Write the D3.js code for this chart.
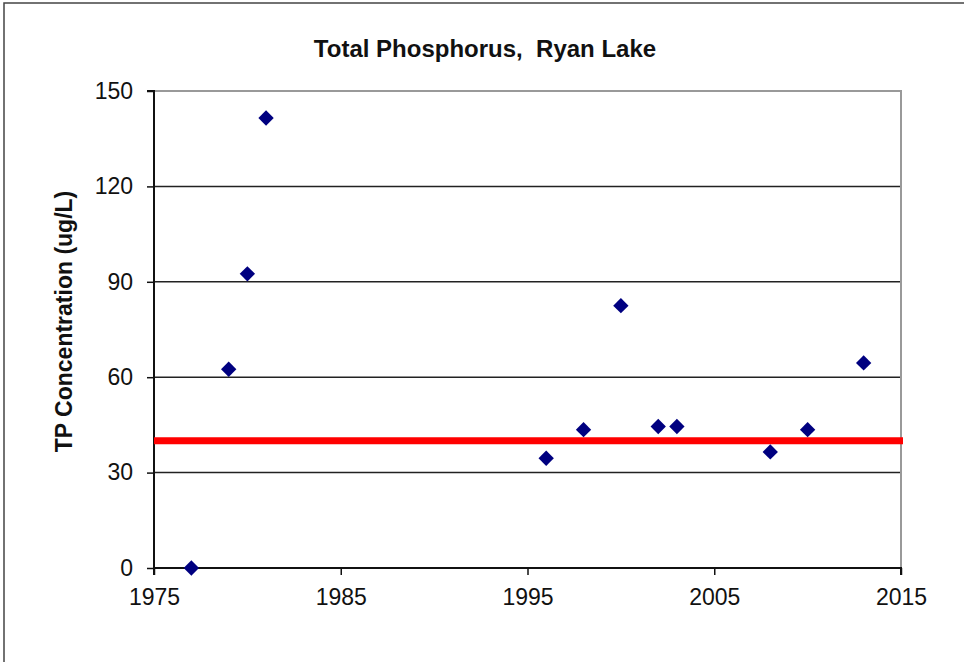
<!DOCTYPE html>
<html>
<head>
<meta charset="utf-8">
<script src="https://cdn.jsdelivr.net/npm/d3@7"></script>
<style>
  html, body { margin: 0; padding: 0; background: #fff; }
  svg { display: block; }
  text { font-family: "Liberation Sans", Arial, sans-serif; fill: #111; }
</style>
</head>
<body>
<svg id="chart" width="964" height="662"></svg>
<script>
// ---- data ----
const years  = [1977, 1979, 1980, 1981, 1996, 1998, 2000, 2002, 2003, 2008, 2010, 2013];
const tpValues = [0, 62.5, 92.5, 141.5, 34.5, 43.5, 82.5, 44.5, 44.5, 36.5, 43.5, 64.5];
const standardValue = 40;
const xTicks = [1975, 1985, 1995, 2005, 2015];
const yTicks = [0, 30, 60, 90, 120, 150];
const titleText = "Total Phosphorus,\u00A0 Ryan Lake";
const yTitleText = "TP Concentration (ug/L)";

const svg = d3.select("#chart");
const m = { left: 154, right: 901, top: 91, bottom: 568 };

const x = d3.scaleLinear().domain([1975, 2015]).range([m.left, m.right]);
const y = d3.scaleLinear().domain([0, 150]).range([m.bottom, m.top]);

// outer border (extends beyond right/bottom of the frame)
svg.append("rect")
  .attr("x", 4).attr("y", 3).attr("width", 1000).attr("height", 700)
  .attr("fill", "none").attr("stroke", "#444").attr("stroke-width", 1.5);

// gridlines
svg.append("g").selectAll("line")
  .data(yTicks.filter(d => d > 0 && d < 150))
  .join("line")
  .attr("x1", m.left).attr("x2", m.right)
  .attr("y1", d => y(d)).attr("y2", d => y(d))
  .attr("stroke", "#222").attr("stroke-width", 1.5);

// plot border top & right (gray)
svg.append("path")
  .attr("d", `M${m.left},${y(150)}H${m.right}V${m.bottom}`)
  .attr("fill", "none").attr("stroke", "#999").attr("stroke-width", 2);

// axes
const yAxis = d3.axisLeft(y).tickValues(yTicks).tickSize(7).tickPadding(14).tickFormat(d3.format("d"));
const gy = svg.append("g").attr("transform", `translate(${m.left},0)`).call(yAxis);
const xAxis = d3.axisBottom(x).tickValues(xTicks).tickSize(7).tickPadding(14).tickFormat(d3.format("d"));
const gx = svg.append("g").attr("transform", `translate(0,${m.bottom})`).call(xAxis);

[gy, gx].forEach(g => {
  g.select(".domain").attr("stroke", "#111").attr("stroke-width", 2);
  g.selectAll(".tick line").attr("stroke", "#111").attr("stroke-width", 1.5);
  g.selectAll(".tick text").attr("font-size", 23).attr("fill", "#222")
    .style("font-family", '"Liberation Sans", Arial, sans-serif');
});
gy.select(".domain").attr("d", `M${-7},${y(150)}H0V${m.bottom}`);
gx.select(".domain").attr("d", `M${m.left},7V0H${m.right}V7`);
gx.selectAll(".tick text").attr("dy", "0.71em");

// standard line
svg.append("line")
  .attr("x1", x(1975)).attr("x2", x(2015) + 2)
  .attr("y1", y(standardValue)).attr("y2", y(standardValue))
  .attr("stroke", "#ff0000").attr("stroke-width", 7);

// points
const diamond = d3.symbol().type(d3.symbolDiamond2).size(150);
svg.append("g").selectAll("path")
  .data(years.map((yr, i) => ({ yr, v: tpValues[i] })))
  .join("path")
  .attr("d", diamond)
  .attr("transform", d => `translate(${x(d.yr)},${y(d.v)})`)
  .attr("fill", "#000080");

// title
svg.append("text")
  .attr("x", 485).attr("y", 57)
  .attr("text-anchor", "middle")
  .attr("font-size", 24).attr("font-weight", "bold")
  .text(titleText);

// y title
svg.append("text")
  .attr("transform", `translate(72,${(m.top + m.bottom) / 2 - 8}) rotate(-90)`)
  .attr("text-anchor", "middle")
  .attr("font-size", 23).attr("font-weight", "bold")
  .text(yTitleText);
</script>
</body>
</html>
